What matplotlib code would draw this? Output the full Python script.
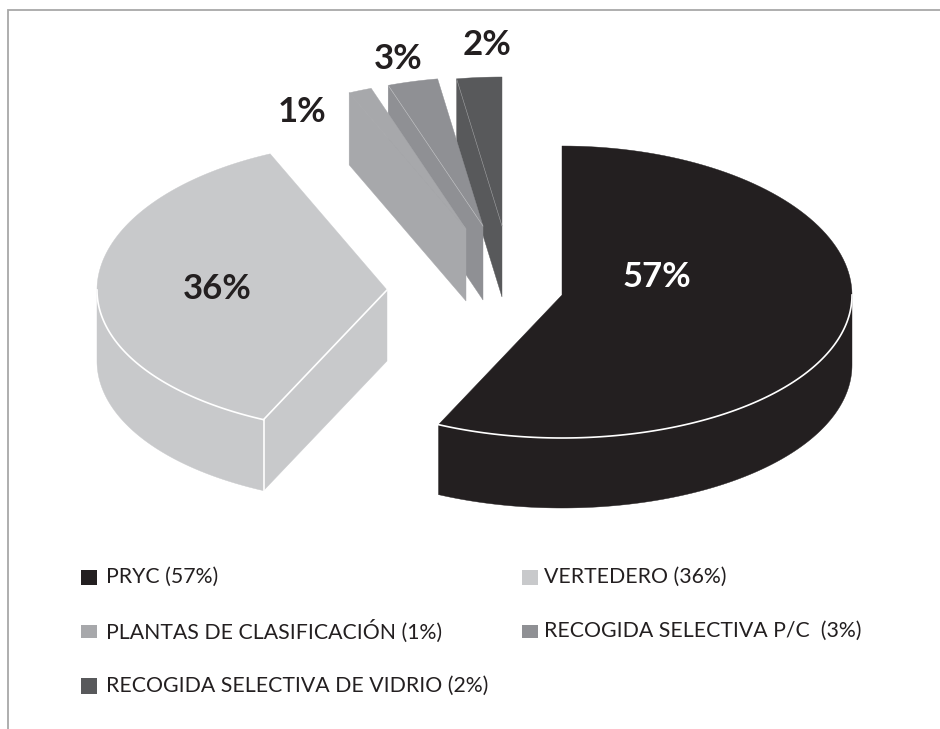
#!/usr/bin/env python3
import numpy as np
import matplotlib
matplotlib.use("Agg")
import matplotlib.pyplot as plt
from matplotlib.patches import Rectangle

# Datos del grafico
categorias = ["PRYC", "VERTEDERO", "PLANTAS DE CLASIFICACIÓN", "RECOGIDA SELECTIVA P/C ", "RECOGIDA SELECTIVA DE VIDRIO"]
valores = [57.0, 36.4, 1.3, 2.8, 2.5]

# Estilo de cada porcion
colores = ["#231f20", "#c8c9cb", "#a7a8ab", "#8f9094", "#58595b"]
centros = [(562, 295), (387, 290), (466, 229), (483, 226), (502, 226)]
alturas = [70, 71, 72, 74, 71]
color_linea = ["white", "white", "#a7a8ab", "#c4c5c7", "#9a9b9d"]
ancho_linea = [1.2, 1.2, 0.4, 0.4, 0.4]
pos_etiquetas = [(657, 277), (217, 289), (302, 112), (398, 59), (487, 45)]
color_etiquetas = ["white", "#231f20", "#231f20", "#231f20", "#231f20"]
pos_leyenda = [(81, 577, 15, 106), (522, 577, 15, 544), (81, 631, 13, 106), (522, 631, 13, 544), (81, 686, 16, 106)]

RX = 290


def borde(cx, cy, th):
    # th en grados, sentido horario desde las 12
    t = np.radians(th)
    ry = 146 + 3 * np.cos(t)
    return cx + RX * np.sin(t), cy - ry * np.cos(t)


fig = plt.figure(figsize=(9.4, 7.29), dpi=100)
ax = fig.add_axes([0, 0, 1, 1])
ax.set_xlim(0, 940)
ax.set_ylim(729, 0)
ax.axis("off")

# Marco (solo izquierda y arriba)
ax.plot([8, 8, 940], [729, 10, 10], color="#a8a8a8", lw=1.3, solid_joinstyle="miter")

limites = np.concatenate([[0], np.cumsum(valores)]) / sum(valores) * 360

# Las porciones finas se solapan: se dibujan de la ultima a la primera
for i in range(len(valores) - 1, -1, -1):
    a, b = limites[i], limites[i + 1]
    cx, cy = centros[i]
    h = alturas[i]
    col = colores[i]

    # Pared exterior visible (de 90 a 270 grados)
    ini, fin = max(a, 90), min(b, 270)
    if fin > ini:
        th = np.linspace(ini, fin, 120)
        x, y = borde(cx, cy, th)
        ax.fill(np.r_[x, x[::-1]], np.r_[y, y[::-1] + h], color=col, lw=0.3)

    # Cara del corte
    x0, y0 = borde(cx, cy, a)
    if a > 0:
        ax.fill([cx, x0, x0, cx], [cy, y0, y0 + h, cy + h], color=col, lw=0.3)

    # Cara superior
    th = np.linspace(a, b, 120)
    x, y = borde(cx, cy, th)
    ax.fill(np.r_[cx, x], np.r_[cy, y], color=col, lw=0.3)

    # Lineas claras
    if fin > ini:
        th = np.linspace(ini, fin, 120)
        x, y = borde(cx, cy, th)
        ax.plot(x, y, color=color_linea[i], lw=ancho_linea[i])
    if a > 0:
        ax.plot([cx, x0], [cy, y0], color=color_linea[i], lw=ancho_linea[i])
        if i == 1:
            ax.plot([x0, x0], [y0, y0 + h], color="white", lw=ancho_linea[i])

# Porcentajes sobre el grafico
for v, (px, py), c in zip(valores, pos_etiquetas, color_etiquetas):
    ax.text(px, py, f"{v:.0f}%", color=c, fontsize=25, fontweight="bold",
            family="Lato", ha="center", va="center")

# Leyenda
for nombre, v, col, (px, py, alto, tx) in zip(categorias, valores, colores, pos_leyenda):
    ax.add_patch(Rectangle((px, py - alto / 2), 16, alto, facecolor=col, lw=0))
    ax.text(tx, py, f"{nombre} ({v:.0f}%)", color="#231f20", fontsize=15.3,
            family="Lato", ha="left", va="center")

plt.savefig("out.png", dpi=100)
